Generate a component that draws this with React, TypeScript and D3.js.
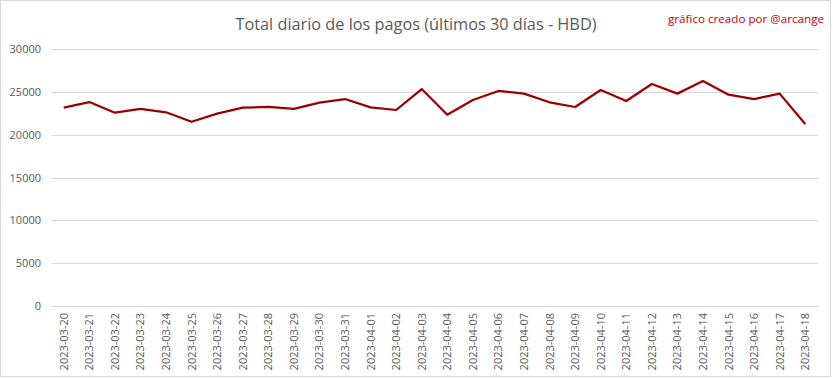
import React from "react";
import * as d3 from "d3";

const dates = [
  "2023-03-20","2023-03-21","2023-03-22","2023-03-23","2023-03-24","2023-03-25","2023-03-26",
  "2023-03-27","2023-03-28","2023-03-29","2023-03-30","2023-03-31","2023-04-01","2023-04-02",
  "2023-04-03","2023-04-04","2023-04-05","2023-04-06","2023-04-07","2023-04-08","2023-04-09",
  "2023-04-10","2023-04-11","2023-04-12","2023-04-13","2023-04-14","2023-04-15","2023-04-16",
  "2023-04-17","2023-04-18",
];
const values = [
  23150, 23810, 22560, 23000, 22610, 21510, 22450, 23150, 23230, 23000,
  23730, 24160, 23190, 22880, 25330, 22330, 24050, 25100, 24790, 23780,
  23230, 25210, 23930, 25910, 24790, 26260, 24670, 24160, 24790, 21250,
];
const yTicks = [0, 5000, 10000, 15000, 20000, 25000, 30000];
const title = "Total diario de los pagos (últimos 30 días - HBD)";
const credit = "gráfico creado por @arcange";

const W = 833, H = 379;
const FONT = "'Open Sans', 'Liberation Sans', sans-serif";

export default function App() {
  const x = d3.scaleBand<string>().domain(dates).range([51, 818]);
  const y = d3.scaleLinear().domain([0, 30000]).range([306, 49]);
  const line = d3.line<number>()
    .x((_, i) => (x(dates[i]) as number) + x.bandwidth() / 2)
    .y((d) => y(d));

  return (
    <svg width={W} height={H} style={{ position: "absolute", left: 0, top: 0, background: "#fff" }}
      fontFamily={FONT}>
      <rect x={0.5} y={0.5} width={830} height={376} fill="#fff" stroke="#d9d9d9" />
      <text x={416} y={30} textAnchor="middle" fontSize={17} fill="#595959"
        textLength={361} lengthAdjust="spacingAndGlyphs">{title}</text>
      <text x={824} y={23} textAnchor="end" fontSize={11.5} fill="#c00000"
        textLength={156} lengthAdjust="spacingAndGlyphs">{credit}</text>
      {yTicks.map((t) => (
        <g key={t}>
          <line x1={51} x2={818} y1={Math.round(y(t)) + 0.5} y2={Math.round(y(t)) + 0.5}
            stroke="#d9d9d9" strokeWidth={1} />
          <text x={41} y={y(t) + 4} textAnchor="end" fontSize={11} fill="#595959">{t}</text>
        </g>
      ))}
      {dates.map((d) => {
        const cx = (x(d) as number) + x.bandwidth() / 2;
        return (
          <text key={d} transform={`translate(${cx + 4},313) rotate(-90)`} textAnchor="end"
            fontSize={11} fill="#595959">{d}</text>
        );
      })}
      <path d={line(values) || ""} fill="none" stroke="#990000" strokeWidth={2.25}
        strokeLinejoin="round" />
    </svg>
  );
}
